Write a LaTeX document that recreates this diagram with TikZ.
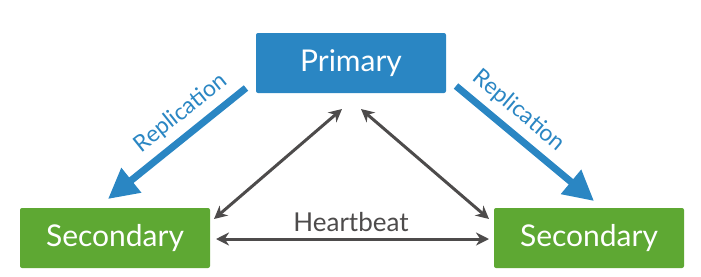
\documentclass[tikz,border=0pt]{standalone}
\usepackage{fontspec}
\setmainfont{Lato}
\usetikzlibrary{arrows.meta}
\definecolor{pblue}{HTML}{2A86C3}
\definecolor{sgreen}{HTML}{5EA833}
\definecolor{agray}{HTML}{4D4B4B}
\begin{document}
\begin{tikzpicture}[x=1pt,y=-1pt,
  box/.style={draw=none, rounded corners=2pt, minimum width=190pt, minimum height=60pt, text=white, font=\fontsize{30}{30}\selectfont, inner sep=0pt},
  repl/.style={line width=7pt, draw=pblue, -{Triangle[length=30pt,width=30pt]}},
  hb/.style={line width=3pt, draw=agray, {Stealth[length=13pt,width=13pt]}-{Stealth[length=13pt,width=13pt]}},
  rlbl/.style={font=\fontsize{23}{23}\selectfont, text=pblue, inner sep=0pt},
  hlbl/.style={font=\fontsize{26}{26}\selectfont, text=agray, inner sep=0pt}]
\useasboundingbox (0,0) rectangle (701,276);
\node[box, fill=pblue] (prim) at (351,63) {Primary};
\node[box, fill=sgreen] (secl) at (115,238) {Secondary};
\node[box, fill=sgreen] (secr) at (589,238) {Secondary};
% blue replication arrows
\coordinate (bl1) at (246,88);
\coordinate (bl2) at (108,199);
\coordinate (br1) at (456,86);
\coordinate (br2) at (594,201);
\draw[repl] (bl1) -- (bl2);
\draw[repl] (br1) -- (br2);
\node[rlbl, rotate=38.6] (rl) at (181,113) {Replication};
\node[rlbl, rotate=-40] (rr) at (519,111) {Replication};
% gray heartbeat arrows
\coordinate (gl1) at (214,219);
\coordinate (gl2) at (342,109);
\coordinate (gr1) at (361,109);
\coordinate (gr2) at (489,219);
\coordinate (gh1) at (216,239);
\coordinate (gh2) at (489,239);
\draw[hb] (gl1) -- (gl2);
\draw[hb] (gr1) -- (gr2);
\draw[hb] (gh1) -- (gh2);
\node[hlbl] (hbl) at (351,222) {Heartbeat};
\end{tikzpicture}
\end{document}
